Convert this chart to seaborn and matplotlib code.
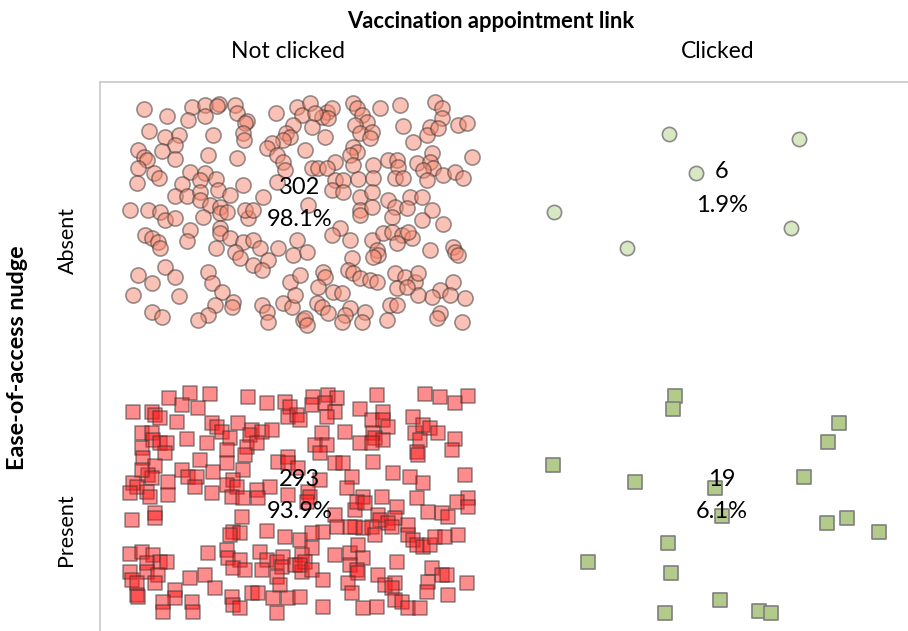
import seaborn as sns
import matplotlib.pyplot as plt
import pandas as pd

# counts per cell (row = nudge, column = link)
nudge_levels = ["Absent", "Present"]
link_levels = ["Not clicked", "Clicked"]
counts_absent = [302, 6]
counts_present = [293, 19]

# point positions (plot units, y grows downward)
nc_absent_x = [144, 167, 192, 205, 219, 217, 235, 237, 247, 245, 205, 188, 243, 244, 276, 297, 302, 293, 286, 290,
               283, 149, 165, 179, 175, 213, 138, 144, 147, 162, 175, 208, 237, 272, 267, 277, 283, 285, 138, 154,
               159, 137, 190, 205, 200, 216, 182, 175, 187, 200, 200, 218, 230, 243, 263, 277, 210, 220,
               310, 327, 332, 322, 328, 312, 325, 353, 357, 362, 367, 355, 360, 372, 370, 380, 400, 435, 442, 442,
               430, 427, 438, 458, 467, 403, 413, 305, 353, 357, 350, 335, 312, 318, 327, 353, 373, 388, 397, 398,
               417, 432, 430, 433, 443, 455, 463, 423, 335, 343, 358, 373, 395, 403, 427, 332, 343, 360, 372, 388,
               410, 422, 308, 360, 395, 407, 432, 472, 315,
               130, 148, 160, 165, 175, 203, 220, 227, 248, 245, 253, 220, 220, 190, 187, 145, 152, 158, 160, 230,
               243, 253, 260, 268, 235, 240, 253, 262, 278, 297, 293, 216, 165, 138, 152, 175, 208, 212, 222, 133,
               179, 233, 232, 215, 208, 198, 152, 162, 262, 267, 268, 283, 292, 290, 300, 295, 303,
               360, 372, 392, 422, 443, 340, 332, 350, 372, 383, 392, 402, 397, 412, 408, 377, 378, 373, 430, 453,
               455, 458, 307, 352, 348, 353, 360, 370, 377, 323, 325, 395, 405, 415, 418, 453, 440, 450, 465, 432,
               418, 397, 407, 318, 333, 342, 317, 322, 328, 350, 345, 342, 365, 362, 390, 397, 387, 440, 437, 462,
               305, 307]
nc_absent_y = [109, 116, 107, 105, 104, 106, 105, 113, 121, 123, 116, 120, 133, 140, 113, 107, 115, 125, 133, 137,
               140, 131, 137, 135, 145, 135, 150, 157, 160, 151, 159, 155, 158, 143, 148, 155, 162, 170, 168, 173,
               178, 183, 172, 173, 180, 179, 184, 196, 196, 192, 200, 190, 195, 185, 197, 182, 205, 207,
               103, 112, 108, 117, 118, 127, 137, 103, 108, 115, 122, 125, 133, 132, 138, 108, 105, 102, 108, 118,
               127, 135, 128, 125, 123, 126, 142, 150, 147, 152, 155, 162, 168, 168, 168, 165, 165, 160, 160, 167,
               163, 153, 162, 168, 175, 172, 178, 170, 180, 180, 179, 178, 178, 178, 180, 190, 192, 197, 192, 200,
               197, 197, 205, 210, 207, 208, 210, 157, 113,
               210, 210, 212, 220, 218, 217, 213, 212, 218, 210, 210, 228, 233, 230, 241, 235, 238, 242, 248, 238,
               242, 240, 248, 260, 252, 258, 265, 270, 248, 240, 255, 248, 267, 275, 283, 277, 272, 283, 292, 295,
               296, 302, 307, 305, 315, 320, 312, 317, 305, 312, 322, 303, 307, 282, 275, 295, 320,
               215, 207, 217, 220, 224, 228, 235, 240, 240, 233, 232, 235, 243, 238, 232, 250, 255, 257, 250, 247,
               252, 255, 252, 258, 270, 273, 278, 280, 282, 272, 277, 273, 277, 282, 273, 282, 290, 295, 298, 297,
               295, 288, 287, 287, 292, 293, 303, 307, 313, 308, 315, 322, 312, 322, 305, 305, 320, 313, 318, 322,
               318, 325]

nc_present_x = [169, 190, 210, 182, 198, 133, 152, 155, 160, 177, 248, 267, 285, 290, 288, 297, 212, 217, 222, 238,
                252, 250, 262, 272, 142, 152, 153, 160, 167, 187, 142, 143, 165, 207, 230, 227, 247, 257, 245, 200,
                155, 148, 152, 168, 182, 188, 197, 213, 227, 243, 233, 227, 237, 257, 270, 278, 288, 288, 298, 133,
                137, 147, 130, 195, 212, 168, 288, 142,
                313, 312, 328, 337, 325, 335, 327, 300, 377, 425, 440, 455, 468, 360, 372, 383, 383, 388, 373, 375,
                383, 360, 372, 345, 322, 315, 327, 320, 335, 343, 373, 413, 415, 420, 423, 430, 438, 417, 418, 455,
                452, 352, 347, 393, 410, 423, 465, 320, 308, 310, 363, 382, 417, 468,
                150, 155, 155, 132, 232, 243, 258, 242, 233, 240, 230, 267, 285, 300, 208, 227, 228, 240, 260, 267,
                277, 283, 282, 295, 302, 262, 277, 280, 233, 245, 130, 142, 153, 160, 167, 147, 147, 130, 132, 137,
                158, 155, 137, 138, 175, 175, 163, 163, 190, 205, 215, 192, 193, 232, 233, 240, 252, 258, 273, 288,
                300, 277,
                307, 335, 355, 357, 365, 397, 395, 378, 380, 388, 392, 372, 363, 355, 350, 337, 323, 312, 375, 408,
                408, 413, 417, 423, 430, 435, 445, 458, 428, 442, 448, 457, 468, 312, 302, 305, 300, 312, 323, 335,
                350, 358, 363, 350, 357, 358, 348, 352, 323, 378, 385, 395, 392, 397, 395, 402, 408, 420, 363, 377,
                432, 442, 447, 428, 427, 448, 467]
nc_present_y = [398, 393, 394, 405, 408, 412, 412, 415, 418, 422, 397, 403, 402, 407, 417, 415, 423, 427, 432, 423,
                430, 435, 432, 430, 433, 433, 440, 443, 443, 439, 448, 458, 453, 443, 438, 450, 447, 443, 455, 460,
                466, 475, 478, 482, 470, 477, 477, 472, 463, 470, 480, 485, 487, 490, 487, 462, 457, 463, 468, 483,
                487, 492, 493, 487, 493, 495, 495, 470,
                397, 405, 395, 398, 403, 412, 417, 420, 395, 394, 397, 403, 396, 409, 420, 412, 420, 427, 433, 438,
                440, 443, 443, 432, 433, 445, 445, 453, 463, 463, 462, 417, 433, 440, 425, 428, 433, 452, 455, 439,
                450, 477, 488, 473, 477, 483, 475, 480, 492, 497, 497, 497, 498, 498,
                497, 513, 518, 520, 497, 498, 498, 517, 532, 533, 535, 531, 537, 540, 553, 550, 558, 560, 552, 560,
                562, 557, 567, 565, 572, 570, 577, 585, 568, 570, 554, 552, 555, 562, 562, 563, 572, 572, 580, 583,
                575, 583, 595, 597, 590, 598, 602, 612, 578, 575, 588, 602, 612, 597, 605, 608, 593, 593, 598, 598,
                597, 613,
                502, 515, 510, 502, 503, 507, 518, 515, 520, 523, 527, 527, 528, 527, 527, 527, 532, 533, 535, 525,
                535, 540, 545, 547, 545, 537, 537, 535, 512, 513, 517, 502, 507, 548, 555, 562, 565, 570, 580, 555,
                553, 545, 558, 565, 570, 573, 583, 593, 607, 575, 585, 583, 588, 562, 600, 602, 608, 608, 608, 607,
                568, 575, 575, 582, 592, 595, 583]

cl_absent_x = [669, 799, 696, 554, 627, 791]
cl_absent_y = [134, 139, 173, 212, 248, 228]

cl_present_x = [675, 673, 839, 828, 553, 635, 715, 722, 804, 827, 847, 879, 668, 588, 671, 720, 665, 759, 771]
cl_present_y = [396, 409, 423, 442, 465, 482, 488, 516, 477, 523, 518, 532, 543, 562, 573, 600, 613, 611, 613]

sns.set_style("white")
plt.rcParams['font.family'] = ['Lato', 'DejaVu Sans']

fig = plt.figure(figsize=(9.08, 6.31), dpi=100)
ax = fig.add_axes([100 / 908, 0, 808 / 908, 1 - 82 / 631])

sns.scatterplot(x=nc_absent_x, y=nc_absent_y, marker="o", s=120, color="#F7876F", alpha=0.5,
                edgecolor="#333333", linewidth=1.2, ax=ax)
sns.scatterplot(x=nc_present_x, y=nc_present_y, marker="s", s=100, color="#FF1A1A", alpha=0.5,
                edgecolor="#333333", linewidth=1.2, ax=ax)
sns.scatterplot(x=cl_absent_x, y=cl_absent_y, marker="o", s=105, color="#D8E8C2",
                edgecolor="#8A8A8A", linewidth=1.2, ax=ax)
sns.scatterplot(x=cl_present_x, y=cl_present_y, marker="s", s=100, color="#B2CB8A",
                edgecolor="#7F7F7F", linewidth=1.2, ax=ax)

ax.set_xlim(100, 908)
ax.set_ylim(631, 82)
ax.set_xticks([])
ax.set_yticks([])
for side in ["right", "bottom"]:
    ax.spines[side].set_visible(False)
for side in ["top", "left"]:
    ax.spines[side].set_color("#C8C8C8")
    ax.spines[side].set_linewidth(1.2)

# count / share labels
col_x = [300, 722]
for row, counts, ys in [(0, counts_absent, [(188, 219), (172, 205)]),
                        (1, counts_present, [(480, 511), (479, 512)])]:
    total = sum(counts)
    for j, n in enumerate(counts):
        ax.text(col_x[j], ys[j][0], str(n), ha="center", va="center", fontsize=17, color="black",
                clip_on=False)
        ax.text(col_x[j], ys[j][1], f"{100 * n / total:.1f}%", ha="center", va="center",
                fontsize=17, color="black", clip_on=False)

ax.text(491, 22, "Vaccination appointment link", ha="center", va="center", fontsize=15.8,
        fontweight="bold", color="black", clip_on=False)
ax.text(288, 52, link_levels[0], ha="center", va="center", fontsize=16.5, color="black", clip_on=False)
ax.text(718, 52, link_levels[1], ha="center", va="center", fontsize=16.5, color="black", clip_on=False)
ax.text(18, 358, "Ease-of-access nudge", ha="center", va="center", rotation=90, fontsize=16.8,
        fontweight="bold", color="black", clip_on=False)
ax.text(68, 240, nudge_levels[0], ha="center", va="center", rotation=90, fontsize=15.5, color="black",
        clip_on=False)
ax.text(66, 530, nudge_levels[1], ha="center", va="center", rotation=90, fontsize=15.5, color="black",
        clip_on=False)

fig.savefig("out.png", dpi=100)
